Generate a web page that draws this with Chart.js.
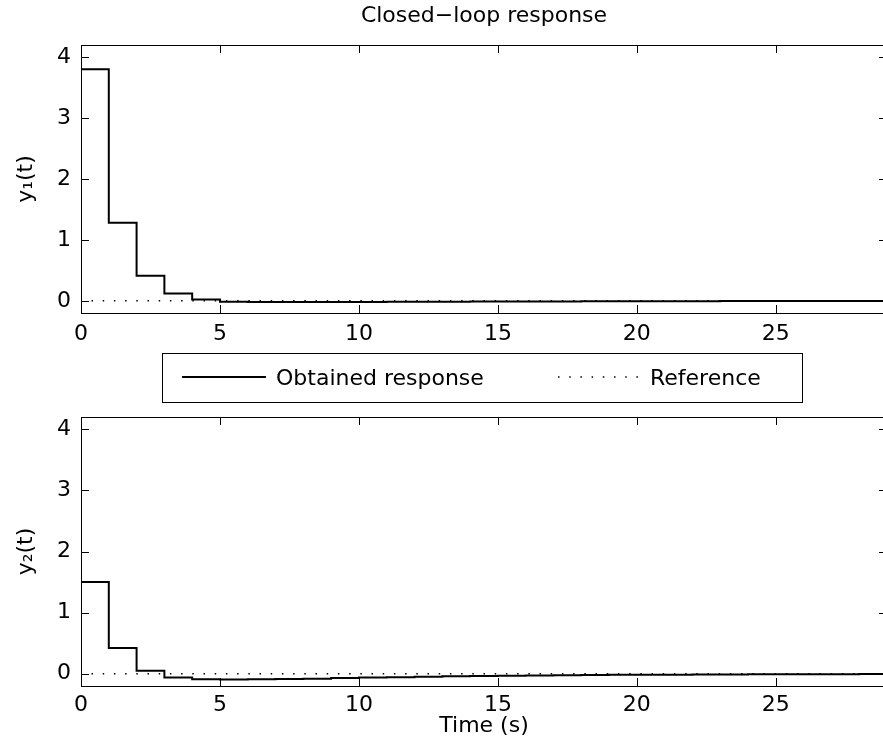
<!DOCTYPE html>
<html>
<head>
<meta charset="utf-8">
<script src="https://cdn.jsdelivr.net/npm/chart.js@4.4.0/dist/chart.umd.min.js"></script>
<style>
  body { margin: 0; background: #fff; }
  #wrap { position: relative; width: 883px; height: 753px; overflow: hidden; background: #fff; }
  canvas { position: absolute; left: 0; }
</style>
</head>
<body>
<div id="wrap">
  <canvas id="chartTop" width="890" height="405" style="top:0px"></canvas>
  <canvas id="chartBottom" width="890" height="348" style="top:405px"></canvas>
</div>
<script>
// Sample times (s) and the two outputs
const time = [0, 1, 2, 3, 4, 5, 6, 7, 8, 9, 10, 11, 12, 13, 14, 15, 16, 17, 18, 19, 20, 21, 22, 23, 24, 25, 26, 27, 28, 29];
const y1 = [3.80, 1.28, 0.41, 0.12, 0.02, -0.015, -0.02, -0.02, -0.02, -0.019, -0.018, -0.017, -0.015, -0.014, -0.013, -0.012, -0.011, -0.010, -0.009, -0.008, -0.007, -0.006, -0.006, -0.005, -0.005, -0.004, -0.004, -0.003, -0.003, -0.002];
const y2 = [1.50, 0.42, 0.05, -0.06, -0.09, -0.095, -0.09, -0.085, -0.08, -0.07, -0.062, -0.055, -0.048, -0.042, -0.037, -0.032, -0.028, -0.024, -0.021, -0.018, -0.016, -0.014, -0.012, -0.010, -0.009, -0.008, -0.007, -0.006, -0.005, -0.004];
const reference = [0, 0, 0, 0, 0, 0, 0, 0, 0, 0, 0, 0, 0, 0, 0, 0, 0, 0, 0, 0, 0, 0, 0, 0, 0, 0, 0, 0, 0, 0];

const xTicks = [0, 5, 10, 15, 20, 25];
const yTicks = [0, 1, 2, 3, 4];
const seriesNames = ['Obtained response', 'Reference'];

const fontFam = '"DejaVu Sans", "Liberation Sans", Arial, sans-serif';
const fs = 22;
Chart.defaults.font.family = fontFam;
Chart.defaults.font.size = fs;
Chart.defaults.color = '#000';

// box round the plot area with inward ticks, like matlab axes
const axesBox = {
  id: 'axesBox',
  afterDatasetsDraw(chart) {
    const {ctx, chartArea: ca, scales} = chart;
    const x = scales.x, y = scales.y;
    ctx.save();
    ctx.strokeStyle = '#000';
    ctx.lineWidth = 1;
    ctx.strokeRect(ca.left + 0.5, ca.top + 0.5, ca.right - ca.left, ca.bottom - ca.top);
    ctx.beginPath();
    x.ticks.forEach(t => {
      const px = Math.round(x.getPixelForValue(t.value)) + 0.5;
      ctx.moveTo(px, ca.bottom); ctx.lineTo(px, ca.bottom - 8);
      ctx.moveTo(px, ca.top); ctx.lineTo(px, ca.top + 8);
    });
    y.ticks.forEach(t => {
      const py = Math.round(y.getPixelForValue(t.value)) + 0.5;
      ctx.moveTo(ca.left, py); ctx.lineTo(ca.left + 8, py);
      ctx.moveTo(ca.right, py); ctx.lineTo(ca.right - 8, py);
    });
    ctx.stroke();
    ctx.restore();
  }
};

// legend box sitting between the two plots
const boxLegend = {
  id: 'boxLegend',
  afterDraw(chart) {
    const {ctx, chartArea: ca} = chart;
    const left = ca.left + 81, top = ca.bottom + 40, w = 640, h = 49;
    const cy = top + 24;
    const spots = [{x0: 20, x1: 104, tx: 114}, {x0: 396, x1: 478, tx: 488}];
    ctx.save();
    ctx.strokeStyle = '#000';
    ctx.lineWidth = 1;
    ctx.strokeRect(left + 0.5, top + 0.5, w, h);
    chart.data.datasets.forEach((ds, i) => {
      const s = spots[i];
      ctx.setLineDash(ds.borderDash || []);
      ctx.lineWidth = ds.borderWidth;
      ctx.strokeStyle = ds.borderColor;
      ctx.beginPath();
      ctx.moveTo(left + s.x0, cy);
      ctx.lineTo(left + s.x1, cy);
      ctx.stroke();
      ctx.setLineDash([]);
      ctx.fillStyle = '#000';
      ctx.font = fs + 'px ' + fontFam;
      ctx.textBaseline = 'alphabetic';
      ctx.fillText(ds.label, left + s.tx, cy + 8);
    });
    ctx.restore();
  }
};

function crearDatos(serie) {
  return [
    {
      label: seriesNames[0],
      data: time.map((t, i) => ({x: t, y: serie[i]})),
      borderColor: '#000',
      borderWidth: 2,
      stepped: 'before',
      pointRadius: 0,
      fill: false
    },
    {
      label: seriesNames[1],
      data: time.map((t, i) => ({x: t, y: reference[i]})),
      borderColor: '#000',
      borderWidth: 1.5,
      borderDash: [1.5, 9.7],
      borderDashOffset: 0.7,
      pointRadius: 0,
      fill: false
    }
  ];
}

function renderGrafica(canvasId, serie, yLabel, cfg) {
  const config = {
    type: 'line',
    data: { datasets: crearDatos(serie) },
    options: {
      responsive: false,
      animation: false,
      devicePixelRatio: 1,
      layout: { padding: { left: 0, right: 3, top: cfg.padTop, bottom: 0 } },
      plugins: {
        legend: { display: false },
        tooltip: { enabled: false },
        title: cfg.title ? {
          display: true,
          text: cfg.title,
          fullSize: false,
          font: { size: fs, weight: 'normal' },
          padding: { top: 2.8, bottom: 15.8 }
        } : { display: false }
      },
      scales: {
        x: {
          type: 'linear',
          min: 0,
          max: 29,
          grid: { display: false, drawTicks: false },
          border: { display: false },
          ticks: { padding: cfg.xPad, maxRotation: 0 },
          title: cfg.xTitle ? {
            display: true,
            text: cfg.xTitle,
            font: { size: fs },
            padding: { top: 0, bottom: cfg.xTitlePad }
          } : { display: false },
          afterBuildTicks: s => { s.ticks = xTicks.map(v => ({value: v})); },
          afterFit: s => { s.height = cfg.xHeight; s.paddingLeft = 0; s.paddingRight = 0; }
        },
        y: {
          min: -0.2,
          max: 4.2,
          grid: { display: false, drawTicks: false },
          border: { display: false },
          ticks: { padding: 10 },
          title: {
            display: true,
            text: yLabel,
            font: { size: fs },
            padding: { top: 12.8, bottom: 0 }
          },
          afterBuildTicks: s => { s.ticks = yTicks.map(v => ({value: v})); },
          afterFit: s => { s.width = 81; s.paddingTop = 0; s.paddingBottom = 0; }
        }
      }
    },
    plugins: cfg.legend ? [axesBox, boxLegend] : [axesBox]
  };
  return new Chart(document.getElementById(canvasId), config);
}

renderGrafica('chartTop', y1, 'y\u2081(t)', {
  title: 'Closed\u2212loop response', padTop: 0, xPad: 7.8, xHeight: 92, legend: true
});
renderGrafica('chartBottom', y2, 'y\u2082(t)', {
  padTop: 12, xPad: 6.3, xHeight: 67, xTitle: 'Time (s)', xTitlePad: 13.8, legend: false
});
</script>
</body>
</html>
